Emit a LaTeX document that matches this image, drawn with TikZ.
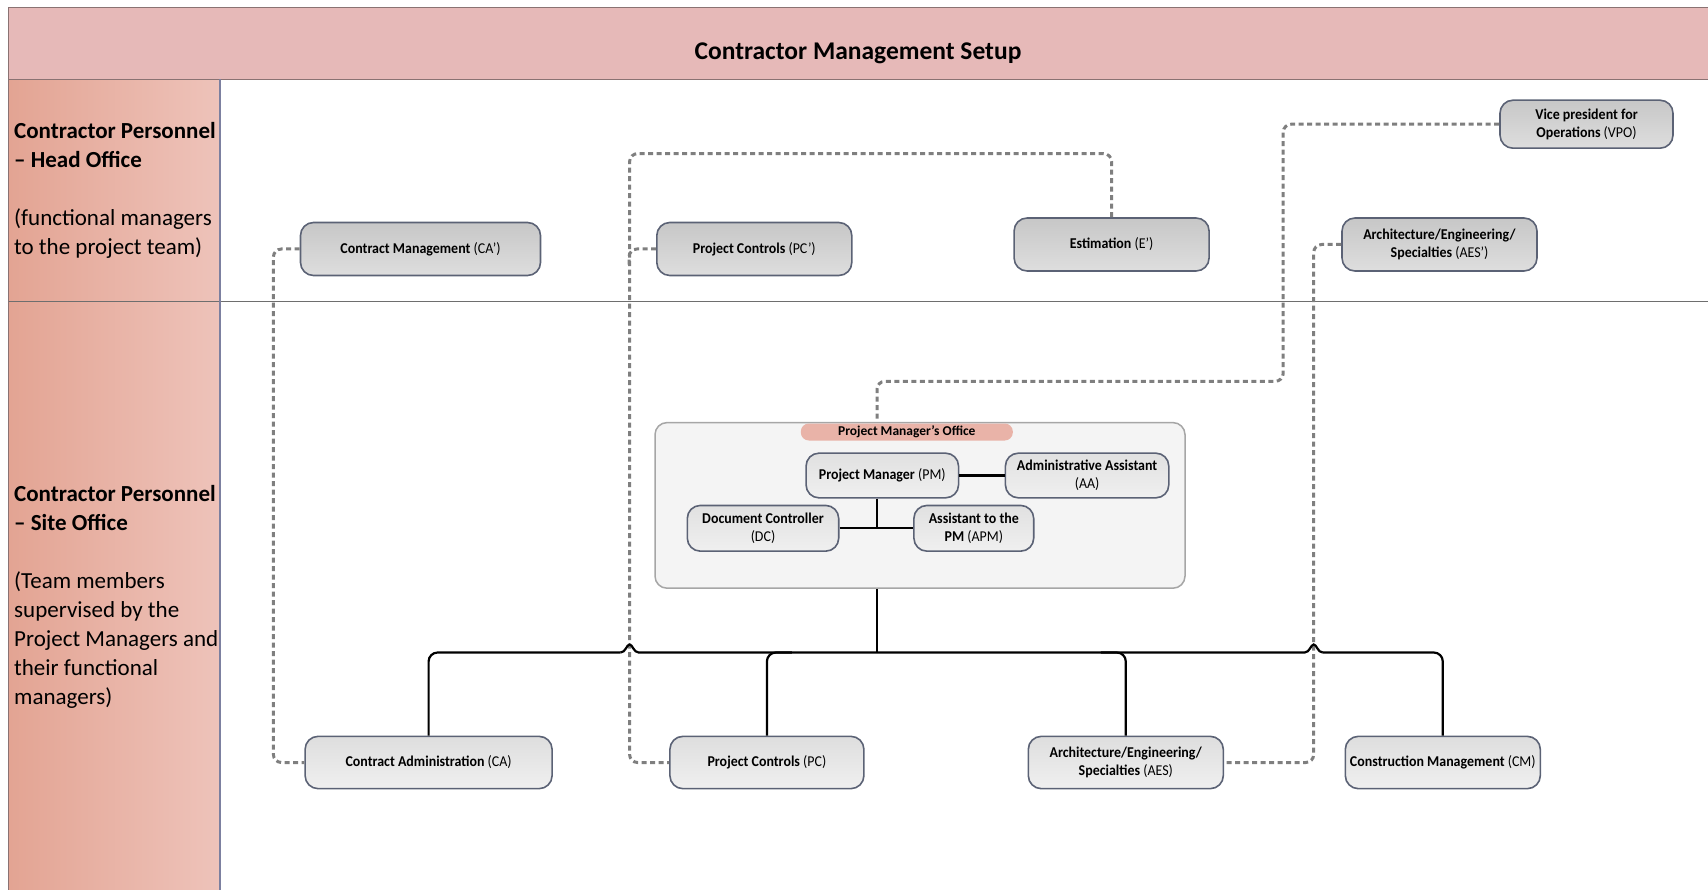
\documentclass[tikz,border=0pt]{standalone}
\usepackage{fontspec}
\setmainfont{Carlito}
\newfontfamily\boxfont[FakeStretch=0.93]{Carlito}
\definecolor{bandpink}{HTML}{E6B9B8}
\definecolor{colA}{HTML}{E3A493}
\definecolor{colB}{HTML}{EEC3BA}
\definecolor{framecol}{HTML}{8A7272}
\definecolor{divcol}{HTML}{6E6E6E}
\definecolor{colline}{HTML}{7C80A0}
\definecolor{boxline}{HTML}{5B6275}
\definecolor{dashcol}{HTML}{7F7F7F}
\definecolor{pillcol}{HTML}{E9B3A8}
\definecolor{pmoline}{HTML}{A6A6A6}
\definecolor{pmofill}{HTML}{F4F4F4}
\tikzset{
  basebox/.style={draw=boxline, line width=1.6pt, rounded corners=13pt, align=center,
    inner sep=2pt, font=\boxfont\fontsize{15}{17.5}\selectfont},
  headbox/.style={basebox, top color=black!22, bottom color=black!13},
  sitebox/.style={basebox, top color=black!13, bottom color=black!6},
  pmobox/.style={basebox, top color=black!12, bottom color=black!6},
  conn/.style={draw=black, line width=2.2pt},
  dsh/.style={draw=dashcol, line width=3pt, dash pattern=on 5pt off 3.5pt, rounded corners=8pt},
  sidetext/.style={align=left, inner sep=0pt, anchor=west,
    font=\fontsize{23}{29}\selectfont}
}
\begin{document}
\begin{tikzpicture}[x=1pt,y=-1pt]
\useasboundingbox (0,0) rectangle (1708,890);

% frame, title band and the two row headers
\fill[bandpink] (8.7,7.6) rectangle (1710,79.5);
\shade[left color=colA, right color=colB] (8.7,79.5) rectangle (220,301.7);
\shade[left color=colA, right color=colB] (8.7,301.7) rectangle (220,892);
\draw[framecol, line width=1.2pt] (1710,7.6) -- (8.7,7.6) -- (8.7,892);
\draw[framecol, line width=1.2pt] (8.7,79.5) -- (1710,79.5);
\draw[divcol, line width=1.2pt] (8.7,301.7) -- (1710,301.7);
\draw[colline, line width=1.2pt] (220,79.5) -- (220,892);

\node[font=\fontsize{25.5}{30}\selectfont\bfseries] (title) at (858,53.4) {Contractor Management Setup};

\node[sidetext] (headtxt) at (14,190)
  {\textbf{Contractor Personnel}\\ \textbf{– Head Office}\\[29pt] (functional managers\\ to the project team)};
\node[sidetext] (sitetxt) at (14,597)
  {\textbf{Contractor Personnel}\\ \textbf{– Site Office}\\[29pt] (Team members\\ supervised by the\\ Project Managers and\\ their functional\\ managers)};

% head office functional managers
\node[headbox, minimum width=240pt, minimum height=53pt] (CAp) at (420.5,249) {\textbf{Contract Management} (CA’)};
\node[headbox, minimum width=195pt, minimum height=53pt] (PCp) at (754.3,249) {\textbf{Project Controls} (PC’)};
\node[headbox, minimum width=195pt, minimum height=53pt] (Ep) at (1111.6,244.5) {\textbf{Estimation} (E’)};
\node[headbox, minimum width=195pt, minimum height=53pt] (AESp) at (1439.5,244.5) {\textbf{Architecture/Engineering/}\\ \textbf{Specialties} (AES’)};
\node[headbox, minimum width=173pt, minimum height=48pt] (VPO) at (1586.5,124.2) {\textbf{Vice president for}\\ \textbf{Operations} (VPO)};

% project manager's office
\node[draw=pmoline, fill=pmofill, line width=1.5pt, rounded corners=12pt,
  minimum width=530pt, minimum height=165.6pt] (PMO) at (920,505.4) {};
\node[fill=pillcol, rounded corners=8pt, minimum width=212pt, minimum height=17pt, inner sep=0pt,
  font=\fontsize{13.5}{15}\selectfont\bfseries] (pill) at (906.8,432) {Project Manager’s Office};
\node[pmobox, minimum width=152.5pt, minimum height=44.7pt] (PM) at (882.3,475.5) {\textbf{Project Manager} (PM)};
\node[pmobox, minimum width=163.4pt, minimum height=44.7pt] (AA) at (1087.1,475.5) {\textbf{Administrative Assistant}\\ (AA)};
\node[pmobox, minimum width=151.4pt, minimum height=45.7pt] (DC) at (763,528.3) {\textbf{Document Controller}\\ (DC)};
\node[pmobox, minimum width=119.8pt, minimum height=45.7pt] (APM) at (973.8,528.3) {\textbf{Assistant to the}\\ \textbf{PM} (APM)};

% site office team members
\node[sitebox, minimum width=247pt, minimum height=52.3pt] (CA) at (428.6,762.5) {\textbf{Contract Administration} (CA)};
\node[sitebox, minimum width=194pt, minimum height=52.3pt] (PC) at (766.9,762.5) {\textbf{Project Controls} (PC)};
\node[sitebox, minimum width=195pt, minimum height=52.3pt] (AES) at (1125.8,762.5) {\textbf{Architecture/Engineering/}\\ \textbf{Specialties} (AES)};
\node[sitebox, minimum width=195pt, minimum height=52.3pt] (CM) at (1442.8,762.5) {\textbf{Construction Management} (CM)};

% routing points
\coordinate (axis) at (877,0);
\coordinate (bus) at (877,652.5);
\coordinate (jA) at (629.6,652.5);
\coordinate (jB) at (1313.7,652.5);
\coordinate (dxCA) at (273.4,0);
\coordinate (pcTop) at (629.6,153.6);
\coordinate (vpoTurn) at (1283.2,381.3);
\coordinate (aesTurn) at (1313.7,762.5);

% solid reporting lines inside the office
\draw[conn] (PM.east) -- (AA.west);
\draw[conn] (axis |- PM.south) -- (axis |- DC.east);
\draw[conn] (DC.east) -- (APM.west);

% dotted functional lines
\draw[dsh] (CAp.west) -| (dxCA |- CA.west) -- (CA.west);
\draw[dsh] (Ep.north) |- (pcTop) |- (PC.west);
\draw[dsh] (PCp.west) -| +(-27,16);
\draw[dsh] (VPO.west) -| (vpoTurn) -| (axis |- PMO.north);
\draw[dsh] (AESp.west) -| (aesTurn) -- (AES.east);

% solid bus to the site team, hopping over the dotted lines
\draw[conn] (axis |- PMO.south) -- (bus);
\draw[conn, rounded corners=9pt] (CA.north) |- ([xshift=-9pt]jA);
\draw[conn] ([xshift=-9pt]jA) .. controls ([xshift=-4pt]jA) and ([xshift=-3pt,yshift=8pt]jA) .. ([yshift=8pt]jA)
  .. controls ([xshift=3pt,yshift=8pt]jA) and ([xshift=4pt]jA) .. ([xshift=9pt]jA)
  -- ([xshift=-9pt]jB)
  .. controls ([xshift=-4pt]jB) and ([xshift=-3pt,yshift=8pt]jB) .. ([yshift=8pt]jB)
  .. controls ([xshift=3pt,yshift=8pt]jB) and ([xshift=4pt]jB) .. ([xshift=9pt]jB);
\draw[conn, rounded corners=9pt] ([xshift=9pt]jB) -| (CM.north);
\draw[conn, rounded corners=9pt] (PC.north) |- ([xshift=25pt]PC.north |- bus);
\draw[conn, rounded corners=9pt] (AES.north) |- ([xshift=-25pt]AES.north |- bus);
\end{tikzpicture}
\end{document}
